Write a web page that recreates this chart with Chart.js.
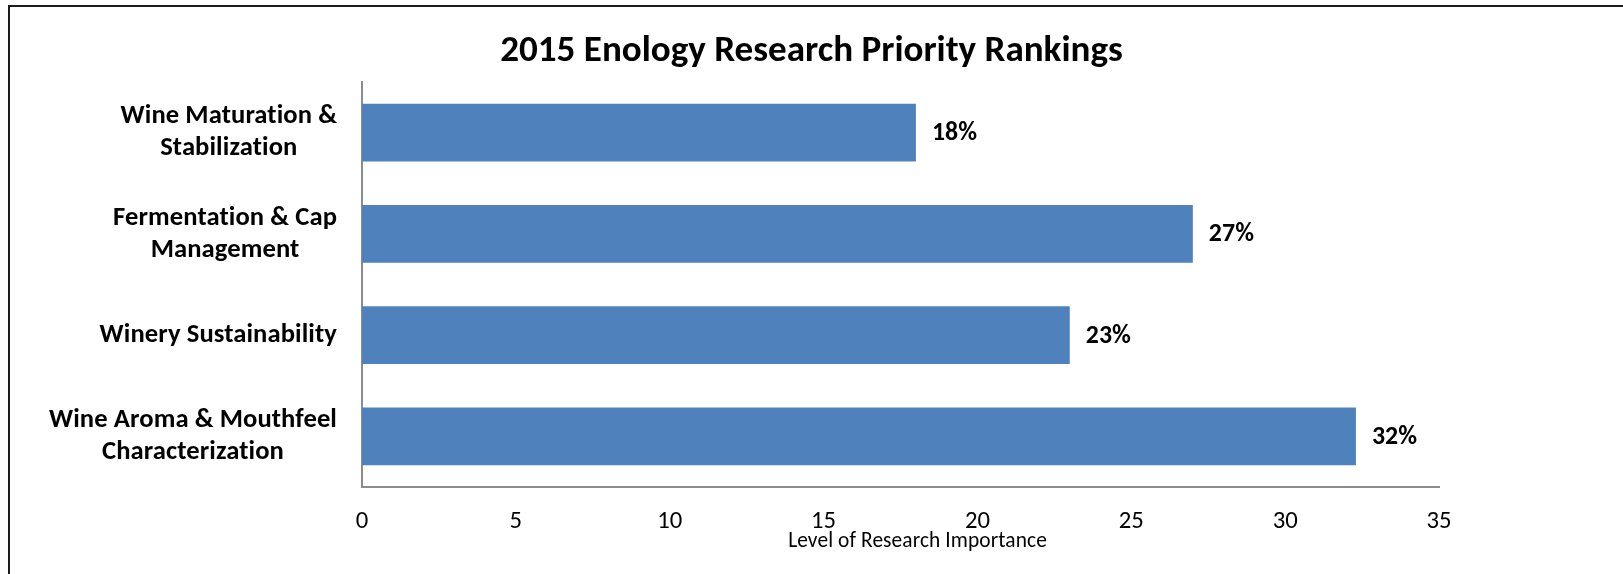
<!DOCTYPE html>
<html>
<head>
<meta charset="utf-8">
<script src="https://cdn.jsdelivr.net/npm/chart.js@4.4.1/dist/chart.umd.min.js"></script>
<style>
  html, body { margin: 0; padding: 0; background: #fff; }
  #wrap { position: relative; width: 1623px; height: 574px; overflow: hidden; }
  /* only the top and left edges of the outer frame show in the picture */
  #frame { position: absolute; left: 8px; top: 5px; width: 1700px; height: 700px;
           border-left: 2px solid #1c1c1c; border-top: 2px solid #1c1c1c; }
  #chart { position: absolute; left: 0; top: 0; }
</style>
</head>
<body>
<div id="wrap">
  <div id="frame"></div>
  <canvas id="chart" width="1623" height="574"></canvas>
</div>
<script>
const TITLE = "2015 Enology Research Priority Rankings";
const X_TITLE = "Level of Research Importance";

const categories = [
  ["Wine Maturation &", "Stabilization"],
  ["Fermentation & Cap", "Management"],
  ["Winery Sustainability"],
  ["Wine Aroma & Mouthfeel", "Characterization"]
];
const values = [18.0, 27.0, 23.0, 32.3];
const valueLabels = ["18%", "27%", "23%", "32%"];
const xTicks = [0, 5, 10, 15, 20, 25, 30, 35];

const FONT = "Carlito, Lato, sans-serif";
const BAR_COLOR = "#4F81BD";
const AXIS_COLOR = "#8c8c8c";

// pick font sizes so the text widths match the original (Calibri) layout
function fitSize(text, weight, target) {
  const c = document.createElement("canvas").getContext("2d");
  c.font = `${weight} 100px ${FONT}`;
  return Math.round((1000 * target) / c.measureText(text).width) / 10;
}

const titleSize = fitSize(TITLE, "bold", 623);
const catSize = fitSize("Winery Sustainability", "bold", 235);
const valSize = fitSize("18%", "bold", 45);
const tickSize = fitSize("10", "normal", 25);
const axSize = fitSize(X_TITLE, "normal", 256);
const catLineH = 32;

const labelPlugin = {
  id: "labels",
  afterDraw(chart) {
    const ctx = chart.ctx;
    const yScale = chart.scales.y;
    const area = chart.chartArea;
    ctx.save();
    ctx.fillStyle = "#000";
    ctx.textBaseline = "middle";
    // keep "ti" from turning into a ligature
    ctx.letterSpacing = "0.1px";

    // category labels: block right-aligned to the axis, lines centred in the block
    ctx.textAlign = "center";
    ctx.font = `bold ${catSize}px ${FONT}`;
    categories.forEach((lines, i) => {
      const cy = yScale.getPixelForValue(i);
      const w = Math.max(...lines.map((l) => ctx.measureText(l).width));
      const cx = area.left - 25 - w / 2;
      lines.forEach((l, j) => {
        ctx.fillText(l, cx, cy + (j - (lines.length - 1) / 2) * catLineH);
      });
    });

    // value labels at the end of each bar
    ctx.textAlign = "left";
    ctx.font = `bold ${valSize}px ${FONT}`;
    chart.getDatasetMeta(0).data.forEach((bar, i) => {
      ctx.fillText(valueLabels[i], bar.x + 16, bar.y + 1);
    });

    // axis title (sits a little right of centre in the original)
    ctx.textAlign = "center";
    ctx.font = `${axSize}px ${FONT}`;
    ctx.fillText(X_TITLE, (area.left + area.right) / 2 + 17, area.bottom + 55);
    ctx.restore();
  }
};

const titleTop = 52 - 0.6 * titleSize;

new Chart(document.getElementById("chart"), {
  type: "bar",
  data: {
    labels: categories,
    datasets: [
      {
        data: values,
        backgroundColor: BAR_COLOR,
        borderWidth: 0,
        barPercentage: 0.57,
        categoryPercentage: 1.0
      }
    ]
  },
  options: {
    indexAxis: "y",
    responsive: false,
    animation: false,
    layout: { padding: 0 },
    plugins: {
      legend: { display: false },
      tooltip: { enabled: false },
      title: {
        display: true,
        text: TITLE,
        color: "#000",
        font: { family: FONT, size: titleSize, weight: "bold", lineHeight: 1.2 },
        padding: { top: titleTop, bottom: 82 - 1.2 * titleSize - titleTop }
      }
    },
    scales: {
      x: {
        min: xTicks[0],
        max: xTicks[xTicks.length - 1],
        grid: { display: false, drawTicks: false },
        border: { display: true, color: AXIS_COLOR, width: 2 },
        ticks: {
          stepSize: xTicks[1] - xTicks[0],
          color: "#000",
          font: { family: FONT, size: tickSize },
          padding: 35 - 0.6 * tickSize,
          maxRotation: 0
        },
        afterFit: (s) => { s.height = 87; }
      },
      y: {
        grid: { display: false, drawTicks: false },
        border: { display: true, color: AXIS_COLOR, width: 2 },
        ticks: { display: false },
        afterFit: (s) => { s.width = 362; }
      },
      // empty right-hand axis that only reserves the blank space on the right,
      // so the title stays centred on the whole canvas
      yRight: {
        type: "category",
        position: "right",
        grid: { display: false, drawTicks: false },
        border: { display: false },
        ticks: { display: false },
        afterFit: (s) => { s.width = 184; }
      }
    }
  },
  plugins: [labelPlugin]
});
</script>
</body>
</html>
